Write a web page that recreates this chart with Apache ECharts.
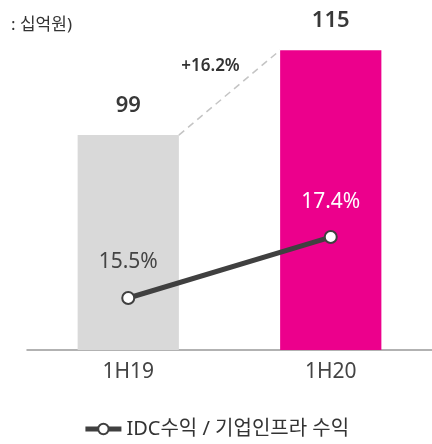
<!DOCTYPE html>
<html>
<head>
<meta charset="utf-8">
<script src="https://cdn.jsdelivr.net/npm/echarts@6/dist/echarts.min.js"></script>
<style>
  html, body { margin: 0; padding: 0; background: #fff; }
  #chart { width: 432px; height: 444px; }
</style>
</head>
<body>
<div id="chart"></div>
<script>
const categories = ['1H19', '1H20']
const revenue = [99, 115]
const ratio = [15.5, 17.4]
const growthLabel = '+16.2%'
const legendName = 'IDC수익 / 기업인프라 수익'

const FONT = '"Noto Sans", "Noto Sans CJK KR", sans-serif'

var chart = echarts.init(document.getElementById('chart'))

var option = {
  backgroundColor: '#fff',
  animation: false,
  title: {
    text: ': 십억원)',
    left: 6,
    top: 12,
    textStyle: { fontFamily: FONT, fontSize: 17, fontWeight: 'normal', color: '#333' },
  },
  legend: {
    bottom: 0,
    left: 'center',
    itemWidth: 36,
    itemHeight: 13,
    itemGap: 6,
    lineStyle: { width: 5 },
    textStyle: { fontFamily: FONT, fontSize: 20, color: '#333' },
    data: [{ name: legendName }],
  },
  grid: { left: 27, right: 0, top: 30, bottom: 94 },
  xAxis: {
    type: 'category',
    data: categories,
    axisLine: { lineStyle: { color: '#999', width: 1.5 } },
    axisTick: { show: false },
    axisLabel: { fontFamily: FONT, fontSize: 21, color: '#444', margin: 12 },
  },
  yAxis: [
    { type: 'value', min: 58.5, max: 118.8, show: false },
    { type: 'value', min: 13.88, max: 23.85, show: false },
  ],
  series: [
    {
      type: 'bar',
      barWidth: '50%',
      data: revenue.map(function (v, i) {
        return { value: v, itemStyle: { color: i === 0 ? '#d9d9d9' : '#ec008c' } }
      }),
      label: {
        show: true,
        position: 'top',
        distance: 18,
        fontFamily: FONT,
        fontSize: 22,
        fontWeight: 600,
        color: '#383838',
      },
      z: 1,
    },
    {
      type: 'custom',
      silent: true,
      data: [[0, revenue[0], 1, revenue[1]]],
      renderItem: function (params, api) {
        var p1 = api.coord([api.value(0), api.value(1)])
        var p2 = api.coord([api.value(2), api.value(3)])
        var hw = api.size([1, 0])[0] * 0.25
        var x1 = p1[0] + hw, x2 = p2[0] - hw
        return {
          type: 'group',
          children: [
            {
              type: 'line',
              shape: { x1: x1, y1: p1[1], x2: x2, y2: p2[1] },
              style: { stroke: '#c4c4c4', lineWidth: 1.5, lineDash: [7, 5] },
            },
            {
              type: 'text',
              x: (x1 + x2) / 2 - 19,
              y: (p1[1] + p2[1]) / 2 - 26,
              style: {
                text: growthLabel,
                fill: '#333',
                font: '600 17px ' + FONT,
                align: 'center',
                verticalAlign: 'middle',
              },
            },
          ],
        }
      },
      z: 2,
    },
    {
      name: legendName,
      type: 'line',
      yAxisIndex: 1,
      symbol: 'circle',
      symbolSize: 12,
      lineStyle: { color: '#404040', width: 5 },
      itemStyle: { color: '#fff', borderColor: '#404040', borderWidth: 2 },
      label: {
        show: true,
        position: 'top',
        distance: 18,
        fontFamily: FONT,
        fontSize: 21,
        formatter: function (p) {
          return p.value.toFixed(1) + '%'
        },
        color: '#444',
      },
      // 1H20 label sits on the pink bar, so it is white
      data: ratio.map(function (v, i) {
        return i === 1 ? { value: v, label: { color: '#fff' } } : v
      }),
      z: 3,
    },
  ],
}

chart.setOption(option)
</script>
</body>
</html>
